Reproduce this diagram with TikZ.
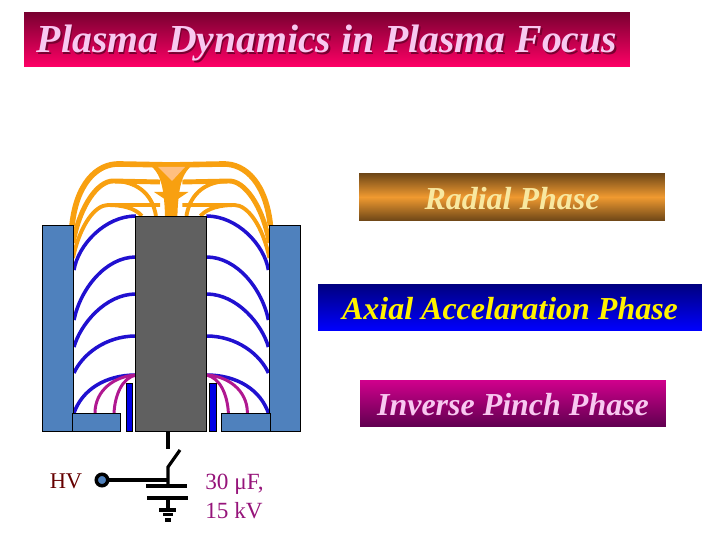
\documentclass[tikz,border=0pt]{standalone}
\usepackage{fontspec}
\setmainfont{Liberation Serif}
\usepackage{tikz}
\usetikzlibrary{positioning}
\definecolor{steel}{HTML}{4F81BD}
\definecolor{electrode}{HTML}{606060}
\definecolor{sheetblue}{HTML}{2010D0}
\definecolor{sheetorange}{HTML}{F8A010}
\definecolor{sheetmagenta}{HTML}{B01890}
\definecolor{titletop}{HTML}{780030}
\definecolor{titlebot}{HTML}{FF0066}
\definecolor{titleink}{HTML}{F8C8F0}
\definecolor{radialedge}{HTML}{704818}
\definecolor{radialmid}{HTML}{F09A30}
\definecolor{radialink}{HTML}{F8E8A0}
\definecolor{inversetop}{HTML}{D0008C}
\definecolor{inversebot}{HTML}{600050}
\tikzset{
  phase/.style={minimum height=0.93cm, text centered, text height=0.5cm, text depth=0pt,
    font=\fontsize{18.2}{20}\selectfont\bfseries\itshape},
  headline/.style={text height=0.54cm, text depth=0pt,
    font=\fontsize{22.6}{24}\selectfont\bfseries\itshape},
  wall/.style={draw=black, fill=steel, line width=0.5pt},
  wire/.style={draw=black, line width=1.8pt},
  bluesheet/.style={draw=sheetblue, line width=2pt},
  orangesheet/.style={draw=sheetorange, line width=2.2pt},
  pinchsheet/.style={draw=sheetmagenta, line width=1.7pt}
}
\begin{document}
\begin{tikzpicture}[x=0.02cm,y=-0.02cm]%pixel grid of the slide
\useasboundingbox (0,0) rectangle (720,540);

\node (title) at (327,39.5) [minimum width=12.12cm, minimum height=1.1cm,
    top color=titletop, bottom color=titlebot, inner sep=0pt] {};
\path (title.center)+(1.5,1.5) node (titleshadow) [headline, text=titletop] {Plasma Dynamics in Plasma Focus};
\path (title.center) node (titletext) [headline, text=titleink] {Plasma Dynamics in Plasma Focus};

\node (radial) at (512,197) [phase, minimum width=6.12cm, top color=radialedge,
    bottom color=radialedge, middle color=radialmid, text=radialink] {Radial Phase};
\path (radial.center)+(-2,110.5) node (axial) [phase, minimum width=7.68cm,
    top color=blue!50!black, bottom color=blue, text=yellow] {Axial Accelaration Phase};
\path (axial.center)+(3,96) node (inverse) [phase, minimum width=6.12cm,
    top color=inversetop, bottom color=inversebot, text=titleink] {Inverse Pinch Phase};

% one half of the gun, drawn twice
\foreach \side in {1,-1} {
\begin{scope}[shift={(171.2-171.2*\side,0)},xscale=\side]
  \draw[orangesheet, line width=3.2pt] (72,226) .. controls (76,185) and (96,163) .. (120,164)
      -- (172,165);
  \draw[orangesheet, line width=2.8pt] (73,243) .. controls (80,205) and (98,181) .. (113,181)
      -- (160,182);
  \draw[orangesheet] (113,181) .. controls (135,181) and (152,192) .. (156,216);
  \draw[orangesheet] (73,258) .. controls (80,225) and (95,205) .. (108,205)
      -- (160,205);
  \draw[orangesheet] (108,205) .. controls (122,205) and (135,208) .. (142,216);
  \draw[bluesheet] (74,270) .. controls (78,245) and (105,216) .. (136,216);
  \draw[bluesheet] (74,320) .. controls (80,290) and (105,257) .. (136,257);
  \draw[bluesheet] (74,347) .. controls (80,325) and (105,294) .. (136,294);
  \draw[bluesheet] (74,373) .. controls (82,355) and (105,336) .. (136,336);
  \draw[bluesheet] (74,413) .. controls (82,390) and (105,375) .. (136,375);
  \draw[pinchsheet] (95,413) .. controls (95,390) and (115,376) .. (136,375);
  \draw[pinchsheet] (114,413) .. controls (115,395) and (122,378) .. (136,375);
  \draw[wall] (42.3,225) rectangle (73.3,431);
  \draw[wall] (72.3,413) rectangle (120.5,431);
  \draw[draw=black, fill=blue!90!black, line width=0.5pt] (126.2,383) rectangle (132.7,431);
  % funnel flank and its notch
  \fill[sheetorange] (150,165) .. controls (158,172) and (164,180) .. (165,216) -- (172,216) -- (172,165) -- cycle;
  \fill[sheetorange] (154,192) -- (166,192) -- (166,200) -- cycle;
\end{scope}
}
% pinch column
\fill[orange!50!white] (158,167) -- (185,167) -- (172,181) -- cycle;
\draw[draw=black, fill=electrode, line width=0.5pt] (135.3,216) rectangle (206.3,431);

% circuit
\node (terminal) at (102,480) [circle, draw=black, fill=steel, line width=2pt,
    minimum size=0.23cm, inner sep=0pt, outer sep=0pt] {};
\coordinate (gun) at (168,431);
\coordinate (swtop) at (168,449);
\coordinate (swtip) at (180,450);
\coordinate (swbase) at (168,467);
\coordinate (capa) at (168,486);
\coordinate (capb) at (168,498);
\coordinate (earth) at (168,510);
\coordinate (tee) at (168,480);
\draw[wire] (gun) -- (swtop);
\draw[wire] (swtip) -- (swbase) -- (capa);
\draw[wire] (terminal) -- (tee);
\draw[wire] (146,486) -- (187,486);
\draw[wire] (147,498) -- (188,498);
\draw[wire] (capb) -- (earth);
\draw[wire] (159,510) -- (176,510);
\draw[wire] (163,514.5) -- (173,514.5);
\draw[wire] (165,520) -- (171,520);

\node (hv) at (66,481) [text=red!40!black, font=\fontsize{12.8}{15}\selectfont] {HV};
\node (rating) at (205,496) [anchor=west, inner sep=0pt, align=left, text=sheetmagenta!85!black,
    font=\fontsize{13.2}{16.5}\selectfont] {30 μF,\\15 kV};
\end{tikzpicture}
\end{document}
